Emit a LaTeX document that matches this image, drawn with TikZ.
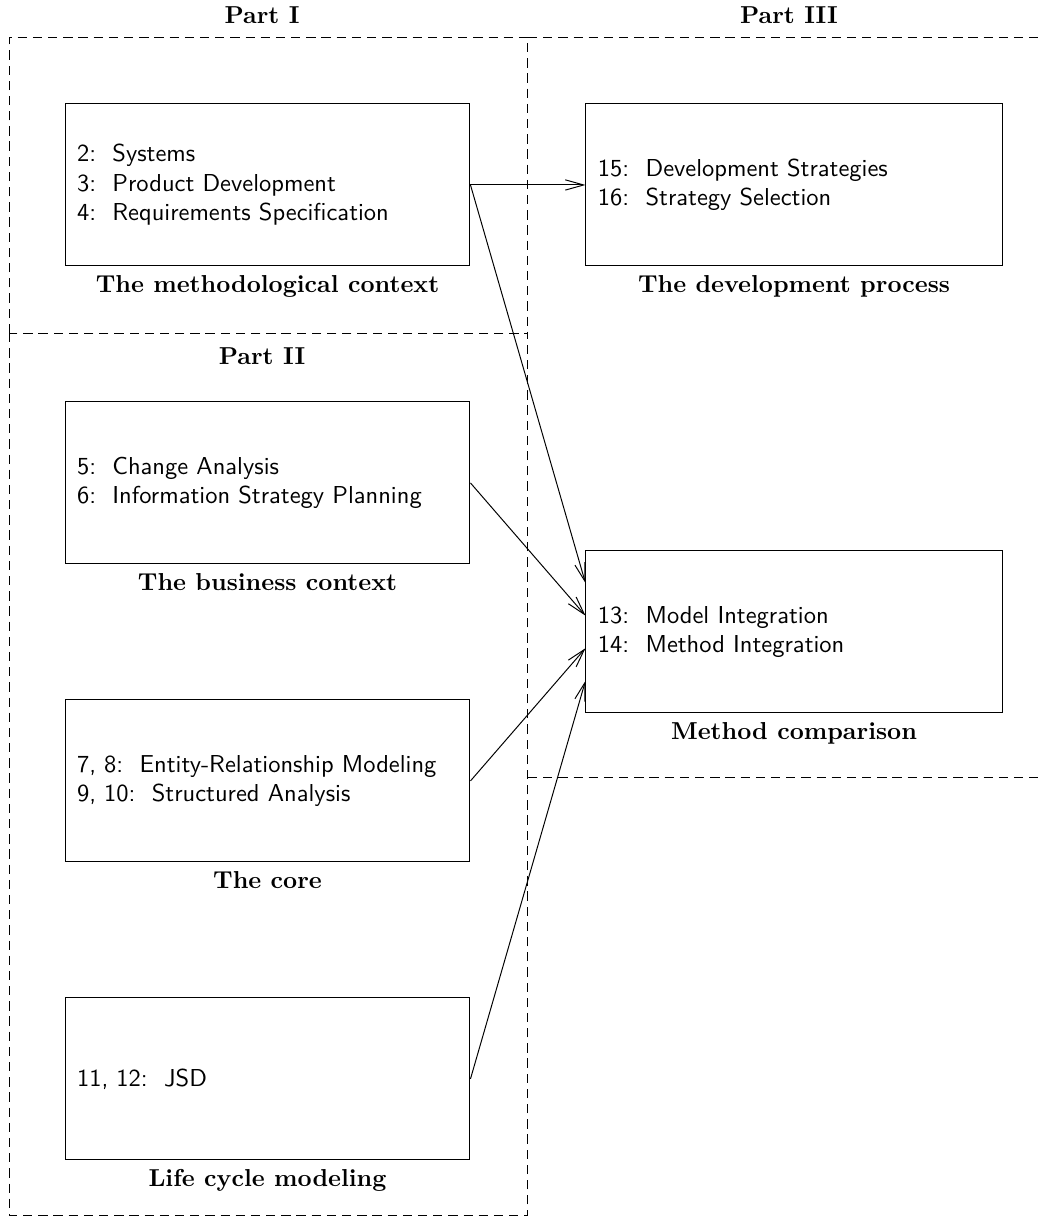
\documentclass[tikz,border=0pt]{standalone}
\usetikzlibrary{positioning,calc,arrows.meta}

\begin{document}
\begin{tikzpicture}[>={Straight Barb[length=7.5pt,width=4.2pt]},node distance=1.937cm and 1.65cm,
    chapbox/.style={draw,minimum height=2.324cm,inner xsep=0.172cm,align=left,font=\sffamily},
    leftbox/.style={chapbox,text width=5.466cm},
    rightbox/.style={chapbox,text width=5.626cm},
    partframe/.style={dash pattern=on 3.8pt off 2.4pt},
    parttitle/.style={font=\bfseries}]
  \useasboundingbox (0,0) rectangle (14.89,-17.59);

  % dashed frames of the three parts
  \draw[partframe] (0.143,-4.778) -- (0.143,-0.531) -- (7.575,-0.531) -- (7.575,-4.778);
  \draw[partframe] (0.143,-4.778) rectangle (7.575,-17.446);
  \draw[partframe] (7.575,-0.531) -- (16,-0.531);
  \draw[partframe] (7.575,-11.162) -- (16,-11.162);
  \node[parttitle] (partI) at (3.76,-0.215) {Part I};
  \node[parttitle] (partII) at (3.76,-5.108) {Part II};
  \node[parttitle] (partIII) at (11.32,-0.215) {Part III};

  % chapters
  \node[leftbox,label={[parttitle]below:The methodological context}] (meth) at (3.838,-2.654)
       {2:\ \ Systems\\3:\ \ Product Development\\4:\ \ Requirements Specification};
  \node[rightbox,right=of meth,label={[parttitle]below:The development process}] (dev)
       {15:\ \ Development Strategies\\16:\ \ Strategy Selection};
  \node[leftbox,below=of meth,label={[parttitle]below:The business context}] (busi)
       {5:\ \ Change Analysis\\6:\ \ Information Strategy Planning};
  \node[leftbox,below=of busi,label={[parttitle]below:The core}] (core)
       {7, 8:\ \ Entity-Relationship Modeling\\9, 10:\ \ Structured Analysis};
  \node[leftbox,below=of core,label={[parttitle]below:Life cycle modeling}] (life)
       {11, 12:\ \ JSD};
  \node[rightbox,anchor=west,xshift=1.65cm,label={[parttitle]below:Method comparison}] (comp)
       at ($(busi.east)!0.5!(core.east)$)
       {13:\ \ Model Integration\\14:\ \ Method Integration};

  % dependencies
  \draw[->] (meth.east) -- (dev.west);
  \draw[->] (meth.east) -- ($(comp.north west)!0.2!(comp.south west)$);
  \draw[->] (busi.east) -- ($(comp.north west)!0.4!(comp.south west)$);
  \draw[->] (core.east) -- ($(comp.north west)!0.6!(comp.south west)$);
  \draw[->] (life.east) -- ($(comp.north west)!0.8!(comp.south west)$);
\end{tikzpicture}
\end{document}
